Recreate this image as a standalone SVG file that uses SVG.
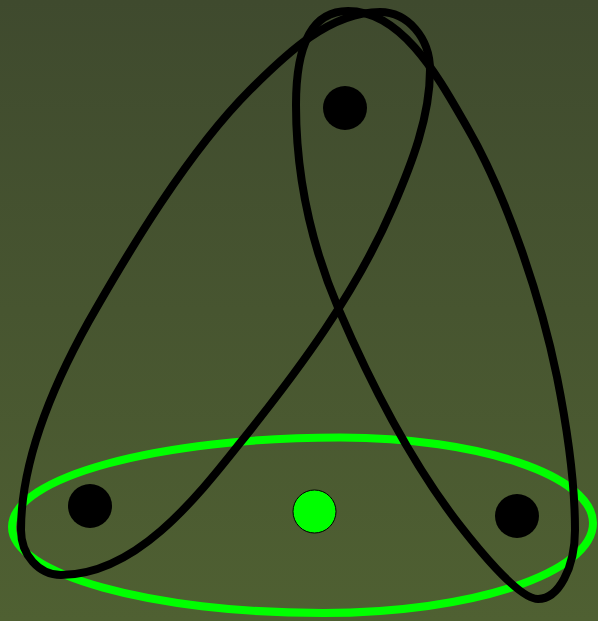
<svg xmlns="http://www.w3.org/2000/svg" width="598" height="621" viewBox="0 0 598 621">
<defs>
<linearGradient id="bg" x1="0" y1="0" x2="0" y2="1">
<stop offset="0" stop-color="#3f4a2e"/>
<stop offset="1" stop-color="#4f6032"/>
</linearGradient>
</defs>
<style>
.edge{fill:none;stroke:#000;stroke-width:8}
.gedge{fill:none;stroke:#00ff00;stroke-width:8}
.node{fill:#000}
.gnode{fill:#00ff00;stroke:#000;stroke-width:1}
</style>
<rect width="598" height="621" fill="url(#bg)"/>
<g id="connectors">
<path class="gedge" d="M12,527 C12,477 159,437.5 340,437.5 C480,437.5 593,476 593,523 C593,573 472,613 323,613 C151,613 12,574 12,527 Z"/>
<path class="edge" d="M21,530 C21,452 62,367 97,307 C127,255 187,153 250,90 C286,54 329.5,12 380,12 C407.6,12 430,38 430,70 C430,117 411.6,164 393,207 C356,293 298.8,370 240,443 C194,501 135,575 61,575 C39,575 21,555 21,530 Z"/>
<path class="edge" d="M296,105 C296,40 315,11 348,11 C403,11 439.3,79 467,127 C507,196 541,299 557,377 C567,427 575,479 575,530 C575,568 558.4,599 538,599 C518,599 475,545 458,523 C409,459 371,384.4 339,310 C311.5,245.7 296,175 296,105 Z"/>
</g>
<g id="n1"><circle class="node" cx="345" cy="108" r="22"/></g>
<g id="n2"><circle class="node" cx="90" cy="506" r="22"/></g>
<g id="n3"><circle class="node" cx="517" cy="516" r="22"/></g>
<g id="n4"><circle class="gnode" cx="314.5" cy="511.5" r="21.5"/></g>
</svg>
